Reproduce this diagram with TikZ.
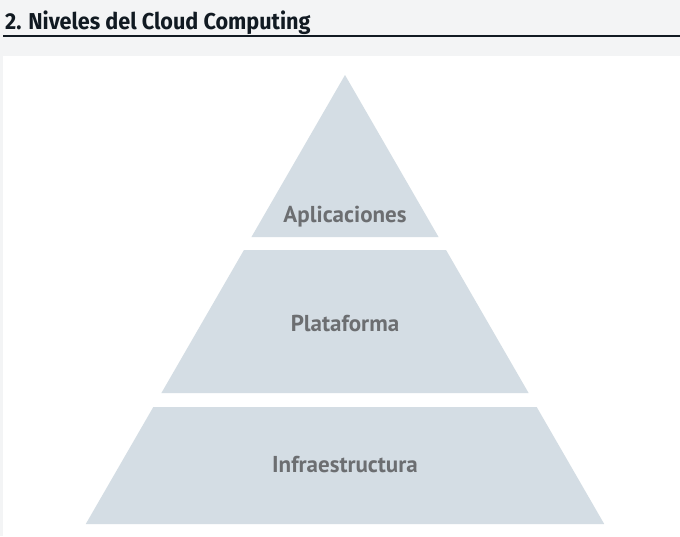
\documentclass[tikz,border=0pt]{standalone}
\usepackage{fontspec}
\setmainfont{PT Sans}
\newfontfamily\hdrfont[FakeStretch=0.94]{Fira Sans}
\definecolor{pagebg}{HTML}{F3F4F5}
\definecolor{titlecol}{HTML}{111A22}
\definecolor{layerfill}{HTML}{D4DDE4}
\definecolor{labelcol}{HTML}{6C6E71}
\tikzset{
  layer/.style={fill=layerfill, draw=none},
  layerlabel/.style={text=labelcol, font=\fontsize{23}{26}\selectfont\bfseries, inner sep=0pt, anchor=base},
  titletext/.style={text=titlecol, font=\hdrfont\fontsize{23}{26}\selectfont\bfseries, inner sep=0pt, anchor=base west}
}
\begin{document}
\begin{tikzpicture}[x=1pt,y=-1pt]
\useasboundingbox (0,0) rectangle (680,536);
\fill[pagebg] (0,0) rectangle (680,536);
\fill[white] (2.5,56) rectangle (680,536);
% title
\node[titletext] (title) at (5,29) {2. Niveles del Cloud Computing};
\coordinate (ulA) at (3,36);
\coordinate (ulB) at (680,36);
\draw[titlecol, line width=2pt] (ulA) -- (ulB);
% pyramid: apex (345,75), slope tan 30
\def\s{0.57735}
\path[layer] (345,75) -- ({345+\s*162},237) -- ({345-\s*162},237) -- cycle;
\path[layer] ({345-\s*175},250) -- ({345+\s*175},250) -- ({345+\s*318},393) -- ({345-\s*318},393) -- cycle;
\path[layer] ({345-\s*332},407) -- ({345+\s*332},407) -- ({345+\s*449},524) -- ({345-\s*449},524) -- cycle;
\node[layerlabel] (app) at (345,222) {Aplicaciones};
\node[layerlabel] (plat) at (345,331) {Plataforma};
\node[layerlabel] (infra) at (345,472) {Infraestructura};
\end{tikzpicture}
\end{document}
